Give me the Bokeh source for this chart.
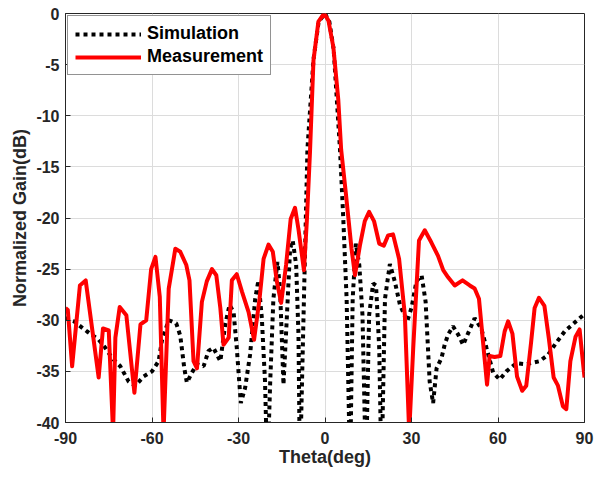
from bokeh.plotting import figure
from bokeh.models import FixedTicker, Legend, LegendItem, Range1d
from bokeh.embed import file_html
from bokeh.resources import INLINE

# ---------------- data ----------------
theta_sim = [-90, -87.1, -82.5, -78.5, -76.2, -73.8, -71.0, -68.1, -65.8, -62.9,
             -60.0, -57.7, -56.5, -54.2, -51.6, -50.2, -48.8, -47.9, -46.1, -44.4,
             -42.1, -40.4, -38.7, -36.3, -34.6, -33.1, -31.7, -30.6, -29.2, -27.7,
             -26.0, -24.2, -23.1, -21.9, -20.8, -20.0, -19.0, -17.9, -16.5, -15.6,
             -14.4, -13.3, -12.1, -11.2, -10.0, -9.2, -8.7, -7.7, -6.9, -6.1,
             -4.0, -2.2, 0.0, 1.5, 3.0, 5.2, 6.3, 7.5, 8.7, 9.6,
             10.7, 11.9, 13.0, 14.2, 15.3, 16.7, 17.7, 18.8, 19.6, 20.8,
             22.5, 24.2, 26.0, 28.5, 30.0, 31.7, 33.5, 34.9, 36.3, 37.5,
             38.7, 40.4, 41.5, 42.7, 44.4, 46.2, 47.9, 50.2, 51.9, 54.2,
             56.0, 58.3, 60.6, 62.9, 66.4, 69.8, 74.4, 77.3, 80.2, 83.1,
             87.1, 90.0]
gain_sim = [-29.8, -30.1, -31.1, -31.9, -32.7, -33.7, -34.5, -36.0, -36.4, -35.5,
            -35.0, -34.0, -31.9, -30.0, -30.3, -31.5, -34.7, -36.1, -35.1, -34.3,
            -34.5, -33.0, -32.7, -34.0, -30.4, -28.5, -29.2, -32.7, -38.1, -36.6,
            -33.4, -27.9, -26.1, -29.8, -36.0, -45.0, -36.0, -27.9, -24.3, -26.9,
            -36.3, -30.1, -23.0, -22.2, -24.6, -31.4, -45.0, -32.7, -23.0, -13.3,
            -4.5, -0.8, 0.0, -0.8, -3.5, -13.3, -19.8, -27.9, -45.0, -27.9,
            -22.5, -24.6, -29.5, -45.0, -29.5, -26.4, -26.6, -32.7, -45.0, -27.9,
            -24.5, -26.2, -28.5, -30.1, -28.8, -26.2, -25.6, -28.2, -36.0, -38.1,
            -34.7, -33.7, -32.4, -31.4, -30.6, -31.4, -32.4, -30.9, -29.8, -30.8,
            -32.7, -35.1, -35.8, -35.0, -34.2, -34.3, -34.0, -33.4, -32.2, -31.1,
            -30.1, -29.4]

theta_meas = [-90, -89.2, -87.7, -85.0, -83.0, -78.5, -77.0, -75.0, -73.5, -72.7,
              -71.2, -68.9, -66.1, -64.0, -62.0, -60.3, -58.8, -57.3, -56.0, -54.2,
              -51.9, -50.2, -48.1, -47.0, -45.6, -44.4, -42.7, -41.0, -39.2, -37.7,
              -36.3, -35.2, -33.4, -32.3, -30.6, -28.8, -26.5, -24.6, -22.7, -21.3,
              -19.6, -18.1, -16.7, -15.2, -13.5, -11.9, -10.4, -9.2, -7.3, -6.3,
              -5.2, -4.0, -2.3, -0.3, 1.2, 2.9, 4.6, 5.6, 7.2, 9.2,
              10.4, 12.1, 13.8, 15.3, 17.0, 18.8, 20.4, 21.9, 23.6, 25.7,
              27.7, 29.2, 30.6, 32.6, 34.6, 36.9, 39.2, 41.0, 42.7, 45.0,
              47.7, 50.2, 51.9, 53.4, 54.8, 56.2, 57.1, 58.8, 60.8, 62.3,
              63.5, 65.0, 66.6, 68.4, 69.8, 71.5, 72.7, 74.2, 76.1, 77.6,
              79.3, 80.8, 82.5, 83.7, 85.1, 86.9, 88.3, 90.0]
gain_meas = [-28.8, -29.0, -34.5, -26.6, -26.1, -35.6, -30.8, -31.0, -41.0, -31.7,
             -28.7, -29.5, -37.1, -30.4, -30.0, -25.0, -23.8, -27.7, -41.0, -26.9,
             -23.0, -23.3, -24.6, -26.1, -34.0, -34.7, -28.2, -26.2, -25.0, -25.6,
             -28.8, -32.4, -31.7, -26.1, -25.5, -27.2, -29.2, -31.9, -27.9, -24.0,
             -22.6, -23.3, -26.2, -28.3, -24.6, -20.1, -19.0, -21.1, -25.1, -20.3,
             -13.5, -4.6, -0.8, 0.0, -0.7, -3.3, -8.4, -13.3, -17.5, -23.0,
             -25.6, -22.7, -20.3, -19.4, -20.3, -22.5, -22.7, -21.7, -21.6, -24.0,
             -29.5, -41.0, -32.7, -22.2, -21.2, -22.4, -23.7, -25.1, -25.8, -26.6,
             -26.1, -26.6, -26.9, -27.9, -32.1, -36.3, -33.5, -33.6, -33.5, -31.1,
             -30.1, -31.3, -35.5, -36.9, -36.4, -32.1, -28.8, -27.8, -28.6, -31.7,
             -35.6, -36.4, -38.4, -38.7, -34.0, -31.6, -30.9, -35.6]

x_ticks = [-90, -60, -30, 0, 30, 60, 90]
y_ticks = [0, -5, -10, -15, -20, -25, -30, -35, -40]
x_tick_labels = ["-90", "-60", "-30", "0", "30", "60", "90"]
y_tick_labels = ["0", "-5", "-10", "-15", "-20", "-25", "-30", "-35", "-40"]

FONT = "Liberation Sans"
TXT = "#262626"

p = figure(width=605, height=469, x_range=Range1d(-90, 90), y_range=Range1d(-40, 0),
           output_backend="svg", toolbar_location=None,
           min_border_left=65, min_border_right=21, min_border_top=13, min_border_bottom=46,
           background_fill_color="white", border_fill_color="white")
p.outline_line_color = TXT
p.outline_line_width = 1

for ax, ticks, labels, title in ((p.xaxis[0], x_ticks, x_tick_labels, "Theta(deg)"),
                                 (p.yaxis[0], y_ticks, y_tick_labels, "Normalized Gain(dB)")):
    ax.ticker = FixedTicker(ticks=ticks)
    ax.major_label_overrides = {t: s for t, s in zip(ticks, labels)}
    ax.axis_label = title
    ax.axis_label_text_font = FONT
    ax.axis_label_text_font_style = "bold"
    ax.axis_label_text_font_size = "18px"
    ax.axis_label_text_color = TXT
    ax.major_label_text_font = FONT
    ax.major_label_text_font_style = "bold"
    ax.major_label_text_font_size = "16px"
    ax.major_label_text_color = TXT
    ax.major_tick_in = 5
    ax.major_tick_out = 0
    ax.minor_tick_in = 0
    ax.minor_tick_out = 0
    ax.axis_line_color = TXT
    ax.major_tick_line_color = TXT
p.xaxis[0].major_label_standoff = 9
p.xaxis[0].axis_label_standoff = 0
p.yaxis[0].major_label_standoff = 6
p.yaxis[0].axis_label_standoff = 3

p.xgrid.ticker = FixedTicker(ticks=x_ticks)
p.ygrid.ticker = FixedTicker(ticks=y_ticks)
p.grid.grid_line_color = "#dcdcdc"
p.grid.grid_line_width = 1

r_sim = p.line(theta_sim, gain_sim, line_color="black", line_width=4, line_dash="4 4")
r_meas = p.line(theta_meas, gain_meas, line_color="#ff0000", line_width=4, line_join="round")

legend = Legend(items=[LegendItem(label="Simulation", renderers=[r_sim]),
                       LegendItem(label="Measurement", renderers=[r_meas])],
                location="top_left", margin=2, padding=7, spacing=2,
                glyph_width=66, glyph_height=20, label_height=20, label_standoff=6,
                label_text_font=FONT, label_text_font_style="bold",
                label_text_font_size="18px", label_text_color="black",
                border_line_color=TXT, border_line_width=1,
                background_fill_color="white", background_fill_alpha=1.0)
p.add_layout(legend)

open("out.html", "w").write(file_html(p, INLINE))
